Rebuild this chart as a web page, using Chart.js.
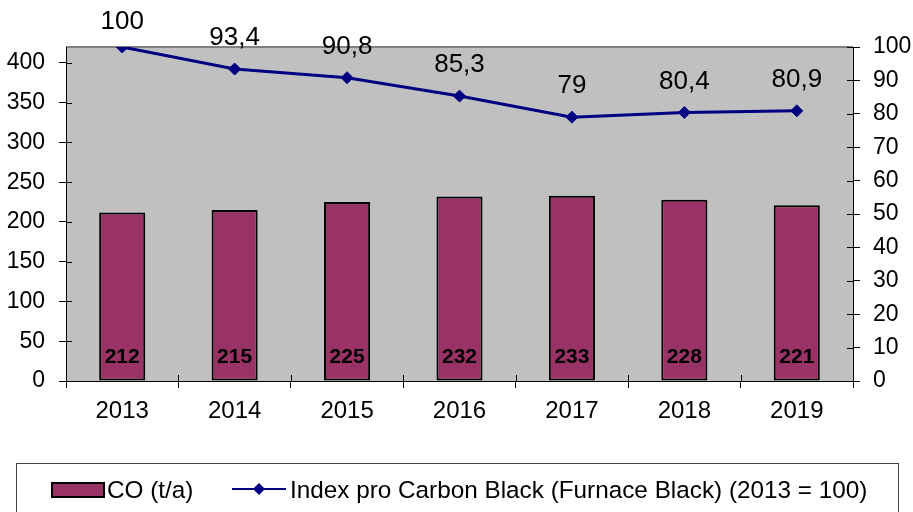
<!DOCTYPE html>
<html><head><meta charset="utf-8">
<script src="https://cdn.jsdelivr.net/npm/chart.js@4/dist/chart.umd.min.js"></script>
<style>html,body{margin:0;padding:0;background:#fff;overflow:hidden}#wrap{width:913px;height:512px}</style>
</head><body><div id="wrap"><canvas id="c" width="913" height="512"></canvas></div>
<script>
const categories = ['2013','2014','2015','2016','2017','2018','2019'];
const coValues = [212,215,225,232,233,228,221];
const indexValues = [100,93.4,90.8,85.3,79,80.4,80.9];
const indexLabels = ['100','93,4','90,8','85,3','79','80,4','80,9'];
const leftTickValues = [0,50,100,150,200,250,300,350,400];
const rightTickValues = [0,10,20,30,40,50,60,70,80,90,100];
const seriesNames = ['CO (t/a)','Index pro Carbon Black (Furnace Black) (2013 = 100)'];

const FONT = "'Liberation Sans', Arial, sans-serif";
const BAR_COLOR = '#993366';
const LINE_COLOR = '#000080';

const plotBg = {
  id:'plotBg',
  beforeDraw(chart){
    const {ctx, chartArea:a} = chart;
    ctx.save();
    ctx.fillStyle = '#c0c0c0';
    ctx.fillRect(a.left, a.top, a.right-a.left, a.bottom-a.top);
    ctx.strokeStyle = '#808080';
    ctx.lineWidth = 2;
    ctx.beginPath();
    ctx.moveTo(a.left, a.top); ctx.lineTo(a.right, a.top);
    ctx.stroke();
    ctx.restore();
  },
  afterDraw(chart){
    const {ctx, chartArea:a, scales} = chart;
    ctx.save();
    ctx.strokeStyle = '#000';
    ctx.lineWidth = 1;
    ctx.beginPath();
    scales.y.ticks.forEach(t=>{const y=Math.round(scales.y.getPixelForValue(t.value))+0.5; ctx.moveTo(a.left,y); ctx.lineTo(a.left+6,y);});
    scales.y1.ticks.forEach(t=>{const y=Math.round(scales.y1.getPixelForValue(t.value))+0.5; ctx.moveTo(a.right,y); ctx.lineTo(a.right-6,y);});
    for(let i=0;i<=categories.length;i++){
      const x = Math.round(scales.x.getPixelForValue(i-0.5))+0.5;
      ctx.moveTo(x,a.bottom); ctx.lineTo(x,a.bottom-6);
    }
    ctx.stroke();
    ctx.restore();
  }
};

const labelsPlugin = {
  id:'labelsPlugin',
  afterDatasetsDraw(chart){
    const {ctx, scales} = chart;
    ctx.save();
    ctx.fillStyle = '#000';
    ctx.textAlign = 'center';
    ctx.textBaseline = 'middle';
    const base = scales.y.getPixelForValue(0);
    ctx.font = 'bold 21px ' + FONT;
    chart.getDatasetMeta(0).data.forEach((b,i)=>{ ctx.fillText(String(coValues[i]), b.x, base-24); });
    ctx.font = '26px ' + FONT;
    chart.getDatasetMeta(1).data.forEach((p,i)=>{ ctx.fillText(indexLabels[i], p.x, Math.max(22, p.y-31)); });
    ctx.restore();
  }
};

const legendPlugin = {
  id:'legendBox',
  afterDraw(chart){
    const {ctx} = chart;
    const ds = chart.data.datasets;
    ctx.save();
    ctx.fillStyle = '#fff';
    ctx.fillRect(16,463,882,60);
    ctx.strokeStyle = '#444';
    ctx.lineWidth = 1;
    ctx.strokeRect(16.5,463.5,882,60);
    ctx.fillStyle = ds[0].backgroundColor;
    ctx.fillRect(52,483,52,14);
    ctx.strokeStyle = '#000'; ctx.lineWidth = 2;
    ctx.strokeRect(52,483,52,14);
    ctx.fillStyle = '#000';
    ctx.font = '24.3px ' + FONT;
    ctx.textBaseline = 'middle';
    ctx.textAlign = 'left';
    ctx.fillText(ds[0].label, 107, 491);
    ctx.strokeStyle = ds[1].borderColor; ctx.lineWidth = 2;
    ctx.beginPath(); ctx.moveTo(232,489); ctx.lineTo(286,489); ctx.stroke();
    ctx.fillStyle = ds[1].borderColor;
    ctx.beginPath(); ctx.moveTo(259,483); ctx.lineTo(265,489); ctx.lineTo(259,495); ctx.lineTo(253,489); ctx.closePath(); ctx.fill();
    ctx.fillStyle = '#000';
    ctx.fillText(ds[1].label, 290, 491);
    ctx.restore();
  }
};

new Chart(document.getElementById('c'), {
  data:{
    labels: categories,
    datasets:[
      {type:'bar', label:seriesNames[0], data:coValues, yAxisID:'y', backgroundColor:BAR_COLOR, borderColor:'#000', borderWidth:2, borderSkipped:false, categoryPercentage:1, barPercentage:0.41, order:2},
      {type:'line', label:seriesNames[1], data:indexValues, yAxisID:'y1', borderColor:LINE_COLOR, backgroundColor:LINE_COLOR, borderWidth:3, pointStyle:'rectRot', pointRadius:6, pointBackgroundColor:LINE_COLOR, pointBorderColor:LINE_COLOR, pointBorderWidth:1, tension:0, order:1}
    ]
  },
  options:{
    responsive:false, animation:false, devicePixelRatio:1,
    layout:{padding:{top:47,left:0,right:0,bottom:0}},
    plugins:{legend:{display:false}, tooltip:{enabled:false}, title:{display:false}},
    scales:{
      x:{type:'category', offset:true,
         grid:{offset:true, drawOnChartArea:false, drawTicks:true, tickLength:7, color:'#000'},
         border:{display:true, color:'#000', width:1},
         ticks:{color:'#000', font:{family:FONT, size:24}, padding:9, maxRotation:0},
         afterFit(s){ s.height = 131; }},
      y:{type:'linear', position:'left', min:0, max:420,
         grid:{drawOnChartArea:false, tickLength:7, color:'#000'},
         border:{display:true, color:'#000', width:1},
         ticks:{stepSize:50, color:'#000', font:{family:FONT, size:23}, padding:14},
         afterBuildTicks(s){ s.ticks = leftTickValues.map(v=>({value:v})); },
         afterFit(s){ s.width = 66; }},
      y1:{type:'linear', position:'right', min:0, max:100,
         grid:{drawOnChartArea:false, tickLength:7, color:'#000'},
         border:{display:true, color:'#000', width:1},
         ticks:{stepSize:10, color:'#000', font:{family:FONT, size:23}, padding:13},
         afterBuildTicks(s){ s.ticks = rightTickValues.map(v=>({value:v})); },
         afterFit(s){ s.width = 60; }}
    }
  },
  plugins:[plotBg, labelsPlugin, legendPlugin]
});
</script></body></html>
